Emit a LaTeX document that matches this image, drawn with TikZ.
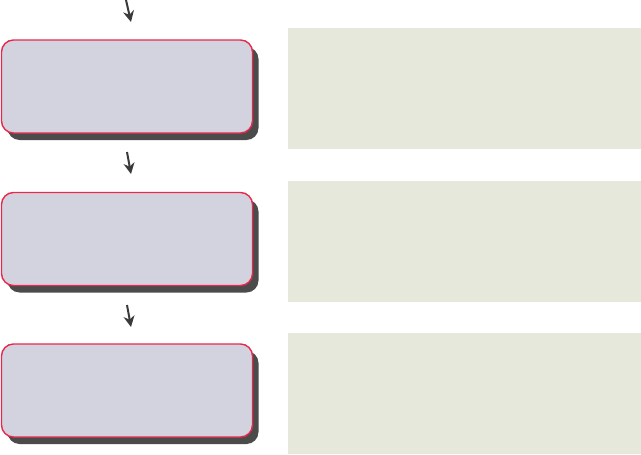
\documentclass[tikz,border=0pt]{standalone}
\usepackage{xcolor}
\usepackage{tikz}
\usetikzlibrary{arrows.meta,positioning,shadows}
\definecolor{stepFill}{HTML}{D2D3DF}
\definecolor{stepEdge}{HTML}{E8284C}
\definecolor{noteFill}{HTML}{E5E8DA}
\definecolor{shadowGray}{HTML}{4B4B4B}
\definecolor{arrowGray}{HTML}{3A3A3A}

\begin{document}
\begin{tikzpicture}[x=1pt,y=-1pt,
    stepbox/.style={rectangle,rounded corners=12pt,draw=stepEdge,fill=stepFill,
                    line width=1.4pt,minimum width=251pt,minimum height=93pt,
                    inner sep=0pt,
                    drop shadow={shadow xshift=6pt,shadow yshift=-7pt,
                                 fill=shadowGray,opacity=1}},
    notebox/.style={rectangle,fill=noteFill,draw=none,minimum width=353pt,
                    minimum height=121pt,inner sep=0pt},
    flow/.style={arrowGray,line width=2pt,-{Stealth[length=11pt,width=11pt]}}
  ]
  \useasboundingbox (0,0) rectangle (641,455);
  %% Step boxes (left column)
  \node[stepbox] (s1) at (127,86.5) {};
  \node[stepbox] (s2) at (127,239)  {};
  \node[stepbox] (s3) at (127,390.5) {};
  %% Note panels (right column)
  \node[notebox] (n1) at (464.5,88.5)  {};
  \node[notebox] (n2) at (464.5,241)   {};
  \node[notebox] (n3) at (464.5,393)   {};
  %% Arrow ends above each step
  \coordinate (a1) at (126,0);   \coordinate (b1) at (131,22);
  \coordinate (a2) at (127,152); \coordinate (b2) at (131,174);
  \coordinate (a3) at (127,305); \coordinate (b3) at (131,327);
  \draw[flow] (a1) -- (b1);
  \draw[flow] (a2) -- (b2);
  \draw[flow] (a3) -- (b3);
\end{tikzpicture}
\end{document}
